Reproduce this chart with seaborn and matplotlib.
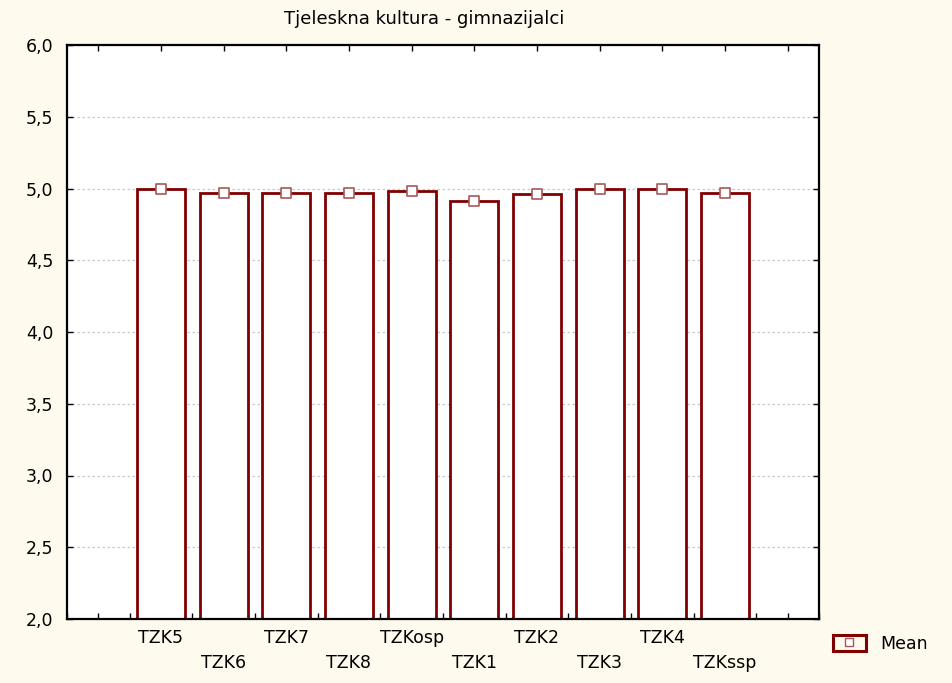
import numpy as np
import pandas as pd
import seaborn as sns
import matplotlib.pyplot as plt
from matplotlib.patches import Rectangle
from matplotlib.lines import Line2D
from matplotlib.ticker import FuncFormatter, MultipleLocator

# data
variables = ['TZK5', 'TZK6', 'TZK7', 'TZK8', 'TZKosp',
             'TZK1', 'TZK2', 'TZK3', 'TZK4', 'TZKssp']
means = [5.0, 4.97, 4.97, 4.97, 4.985, 4.915, 4.96, 5.0, 5.0, 4.97]

df = pd.DataFrame({'var': variables, 'mean': means})

sns.set_style('white')
plt.rcParams['font.family'] = ['DejaVu Sans']
plt.rcParams['text.color'] = 'black'
plt.rcParams['xtick.color'] = 'black'
plt.rcParams['ytick.color'] = 'black'

bg = '#fefaee'
red = '#800000'

fig = plt.figure(figsize=(9.52, 6.83), dpi=100, facecolor=bg)
ax = fig.add_axes([67/952, 1-619/683, (819-67)/952, (619-45)/683])
ax.set_facecolor('white')

# bars
sns.barplot(data=df, x='var', y='mean', color='white', width=0.77,
            edgecolor=red, linewidth=2, ax=ax, zorder=2)
# mean markers
sns.scatterplot(x=np.arange(len(variables)), y=df['mean'], marker='s', s=55,
                color='white', edgecolor='#a85858', linewidth=1.2,
                ax=ax, zorder=4, clip_on=False)

ax.set_xlim(-1.5, 10.5)
ax.set_ylim(2.0, 6.0)
ax.yaxis.set_major_locator(MultipleLocator(0.5))
ax.yaxis.set_major_formatter(FuncFormatter(lambda v, p: f'{v:.1f}'.replace('.', ',')))
ax.yaxis.grid(True, color='#c8c8c8', linestyle=(0, (2, 2)), linewidth=0.9)
ax.set_axisbelow(True)

# staggered x labels, empty slots at each end
labels = [v if i % 2 == 0 else '\n' + v for i, v in enumerate(variables)]
ax.set_xticks(np.arange(-1.0, 11.0, 1.0))
ax.set_xticklabels([''] + labels + [''], linespacing=1.55)
ax.set_xticks(np.arange(-1.5, 10.6, 1.0), minor=True)
ax.tick_params(axis='x', which='major', direction='in', length=4, width=1,
               bottom=True, top=True, pad=7, labelsize=12.5, labelcolor='black')
ax.tick_params(axis='x', which='minor', direction='in', length=4, width=1,
               bottom=True, top=False)
ax.tick_params(axis='y', direction='in', length=4, width=1, left=True,
               right=True, labelsize=12.5, pad=10, labelcolor='black')
ax.set_xlabel('')
ax.set_ylabel('')

for s in ax.spines.values():
    s.set_visible(True)
    s.set_color('black')
    s.set_linewidth(1.6)

fig.text(424/952, 1-19/683, 'Tjeleskna kultura - gimnazijalci',
         ha='center', va='center', fontsize=13, color='black')

# legend
box = Rectangle((0, 0), 1, 1, facecolor=bg, edgecolor=red, linewidth=2.2)
mk = Line2D([], [], marker='s', markersize=6, markerfacecolor='white',
            markeredgecolor='#a85858', linestyle='none')
fig.legend([(box, mk)], ['Mean'], loc='center left',
           bbox_to_anchor=(833/952, 1-644/683), frameon=False, fontsize=12.5,
           borderpad=0, borderaxespad=0, handlelength=1.9, handleheight=1.05,
           handletextpad=0.8, labelcolor='black')

fig.savefig('out.png', dpi=100, facecolor=bg)
